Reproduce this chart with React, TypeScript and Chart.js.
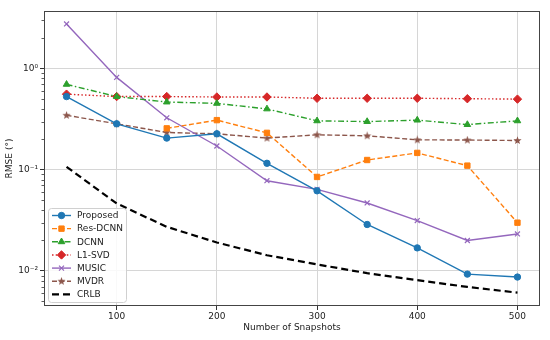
import React, { useEffect, useRef } from "react";
import { Chart, registerables } from "chart.js";
import * as helpers from "chart.js/helpers";

Chart.register(...registerables);

const snapshots = [50, 100, 150, 200, 250, 300, 350, 400, 450, 500];
const proposed = [0.53, 0.285, 0.206, 0.227, 0.116, 0.062, 0.0288, 0.0169, 0.0093, 0.0087];
const resDcnn = [null, null, 0.257, 0.31, 0.232, 0.085, 0.125, 0.147, 0.11, 0.03];
const dcnn = [0.7, 0.53, 0.468, 0.454, 0.4, 0.305, 0.3, 0.31, 0.28, 0.305];
const l1svd = [0.56, 0.53, 0.53, 0.525, 0.525, 0.51, 0.51, 0.51, 0.505, 0.5];
const music = [2.77, 0.82, 0.327, 0.172, 0.078, 0.064, 0.047, 0.0315, 0.02, 0.0232];
const mvdr = [0.346, 0.285, 0.234, 0.227, 0.206, 0.222, 0.217, 0.198, 0.197, 0.195];
const crlb = [0.107, 0.0465, 0.0273, 0.0191, 0.0143, 0.0116, 0.0095, 0.0081, 0.00695, 0.0061];

const xTicks = [100, 200, 300, 400, 500];
const yTicks = [0.01, 0.1, 1];
const yTickLabels = ["10\u207B\u00B2", "10\u207B\u00B9", "10\u2070"];

const FONT = "'DejaVu Sans', sans-serif";

function makeStar(color: string): HTMLCanvasElement {
  const c = document.createElement("canvas");
  c.width = 9;
  c.height = 9;
  const ctx = c.getContext("2d")!;
  ctx.fillStyle = color;
  ctx.beginPath();
  for (let i = 0; i < 10; i++) {
    const r = i % 2 === 0 ? 4.3 : 1.8;
    const a = -Math.PI / 2 + (i * Math.PI) / 5;
    const px = 4.5 + r * Math.cos(a);
    const py = 4.6 + r * Math.sin(a);
    if (i === 0) ctx.moveTo(px, py);
    else ctx.lineTo(px, py);
  }
  ctx.closePath();
  ctx.fill();
  return c;
}

function pts(arr: (number | null)[]) {
  return snapshots.map((x, i) => ({ x, y: arr[i] }));
}

export default function App() {
  const ref = useRef<HTMLCanvasElement>(null);
  useEffect(() => {
    const star = makeStar("#8c564b");
    const ds = [
      { label: "Proposed", data: pts(proposed), borderColor: "#1f77b4", backgroundColor: "#1f77b4", borderDash: [], pointStyle: "circle", pointRadius: 3.2, borderWidth: 1.4 },
      { label: "Res-DCNN", data: pts(resDcnn), borderColor: "#ff7f0e", backgroundColor: "#ff7f0e", borderDash: [5, 2.5], pointStyle: "rect", pointRadius: 3.8, borderWidth: 1.4 },
      { label: "DCNN", data: pts(dcnn), borderColor: "#2ca02c", backgroundColor: "#2ca02c", borderDash: [6, 2.5, 1.5, 2.5], pointStyle: "triangle", pointRadius: 3.8, borderWidth: 1.4 },
      { label: "L1-SVD", data: pts(l1svd), borderColor: "#d62728", backgroundColor: "#d62728", borderDash: [1.5, 2.2], pointStyle: "rectRot", pointRadius: 4.2, borderWidth: 1.4 },
      { label: "MUSIC", data: pts(music), borderColor: "#9467bd", backgroundColor: "#9467bd", borderDash: [], pointStyle: "crossRot", pointRadius: 3.5, borderWidth: 1.4 },
      { label: "MVDR", data: pts(mvdr), borderColor: "#8c564b", backgroundColor: "#8c564b", borderDash: [5, 2.5], pointStyle: star, pointRadius: 4, borderWidth: 1.4 },
      { label: "CRLB", data: pts(crlb), borderColor: "#000000", backgroundColor: "#000000", borderDash: [7, 4], pointStyle: "circle", pointRadius: 0, borderWidth: 2.2 },
    ];

    const datasets = ds.map((d) => ({
      ...d,
      fill: false,
      tension: 0,
      pointBorderColor: d.borderColor,
      pointBackgroundColor: d.backgroundColor,
      pointBorderWidth: d.pointStyle === "crossRot" ? 1.2 : 1,
      pointHoverRadius: d.pointRadius,
    }));

    const framePlugin = {
      id: "frame",
      beforeDatasetsDraw(chart: any) {
        // minor ticks on y axis
        const ys = chart.scales.y;
        const ctx = chart.ctx;
        const a = chart.chartArea;
        ctx.save();
        ctx.strokeStyle = "#333";
        ctx.lineWidth = 0.8;
        for (let e = -3; e <= 0; e++) {
          for (let m = 2; m <= 9; m++) {
            const v = m * Math.pow(10, e);
            if (v < ys.min || v > ys.max) continue;
            const py = Math.round(ys.getPixelForValue(v)) + 0.5;
            ctx.beginPath();
            ctx.moveTo(a.left - 2.5, py);
            ctx.lineTo(a.left, py);
            ctx.stroke();
          }
        }
        ctx.restore();
      },
      afterDatasetsDraw(chart: any) {
        const ctx = chart.ctx;
        const a = chart.chartArea;
        ctx.save();
        ctx.strokeStyle = "#444";
        ctx.lineWidth = 1;
        ctx.strokeRect(Math.round(a.left) + 0.5, Math.round(a.top) + 0.5, Math.round(a.right - a.left) - 1, Math.round(a.bottom - a.top) - 1);
        ctx.restore();
      },
      afterDraw(chart: any) {
        const ctx = chart.ctx;
        const bx = 48, by = 208, bw = 78, bh = 94;
        ctx.save();
        ctx.fillStyle = "rgba(255,255,255,0.85)";
        ctx.strokeStyle = "#d0d0d0";
        ctx.lineWidth = 1;
        ctx.beginPath();
        (ctx as any).roundRect(bx + 0.5, by + 0.5, bw, bh, 3);
        ctx.fill();
        ctx.stroke();
        chart.data.datasets.forEach((d: any, i: number) => {
          const cy = by + 7.5 + i * 13.15;
          ctx.save();
          ctx.strokeStyle = d.borderColor;
          ctx.lineWidth = d.borderWidth;
          ctx.setLineDash(d.borderDash || []);
          ctx.beginPath();
          ctx.moveTo(52, cy);
          ctx.lineTo(71, cy);
          ctx.stroke();
          ctx.restore();
          if (d.pointRadius > 0) {
            ctx.save();
            ctx.fillStyle = d.backgroundColor;
            ctx.strokeStyle = d.borderColor;
            ctx.lineWidth = d.pointBorderWidth;
            ctx.setLineDash([]);
            helpers.drawPoint(ctx, { pointStyle: d.pointStyle, radius: d.pointRadius, rotation: 0, borderWidth: d.pointBorderWidth }, 61.5, cy);
            ctx.restore();
          }
          ctx.fillStyle = "#222";
          ctx.font = `9px ${FONT}`;
          ctx.textBaseline = "middle";
          ctx.textAlign = "left";
          ctx.fillText(d.label, 77, cy + 0.5);
        });
        ctx.restore();
      },
    };

    const chart = new Chart(ref.current!, {
      type: "line",
      data: { datasets: datasets as any },
      options: {
        animation: false,
        responsive: false,
        devicePixelRatio: 1,
        layout: { padding: { left: 0, right: 10, top: 11, bottom: 0 } },
        plugins: { legend: { display: false }, tooltip: { enabled: false } },
        scales: {
          x: {
            type: "linear",
            min: 27.5,
            max: 522.5,
            afterBuildTicks: (s: any) => {
              s.ticks = xTicks.map((v) => ({ value: v }));
            },
            afterFit: (s: any) => {
              s.height = 34;
            },
            ticks: {
              color: "#222",
              font: { family: FONT, size: 9 },
              padding: 1,
              maxRotation: 0,
              autoSkip: false,
              callback: (v: any) => String(v),
            },
            grid: { color: "#d6d6d6", lineWidth: 1, tickLength: 4, tickColor: "#333", drawTicks: true },
            border: { display: false },
            title: { display: true, text: "Number of Snapshots", color: "#222", font: { family: FONT, size: 9 }, padding: { top: 0, bottom: 7 } },
          },
          y: {
            type: "logarithmic",
            min: 0.0045,
            max: 3.72,
            afterBuildTicks: (s: any) => {
              s.ticks = yTicks.map((v) => ({ value: v, major: true }));
            },
            afterFit: (s: any) => {
              s.width = 44;
            },
            ticks: {
              color: "#222",
              font: { family: FONT, size: 9 },
              padding: 2,
              autoSkip: false,
              callback: (v: any) => {
                const i = yTicks.findIndex((t) => Math.abs(t - v) / t < 1e-6);
                return i >= 0 ? yTickLabels[i] : "";
              },
            },
            grid: { color: "#d6d6d6", lineWidth: 1, tickLength: 4, tickColor: "#333", drawTicks: true },
            border: { display: false },
            title: { display: true, text: "RMSE (\u00B0)", color: "#222", font: { family: FONT, size: 9 }, padding: { top: 4, bottom: 0 } },
          },
        },
      },
      plugins: [framePlugin],
    } as any);
    return () => chart.destroy();
  }, []);

  return (
    <div style={{ position: "fixed", left: 0, top: 0, width: 550, height: 340, background: "#fff" }}>
      <canvas ref={ref} width={550} height={340} style={{ width: 550, height: 340, display: "block" }} />
    </div>
  );
}
